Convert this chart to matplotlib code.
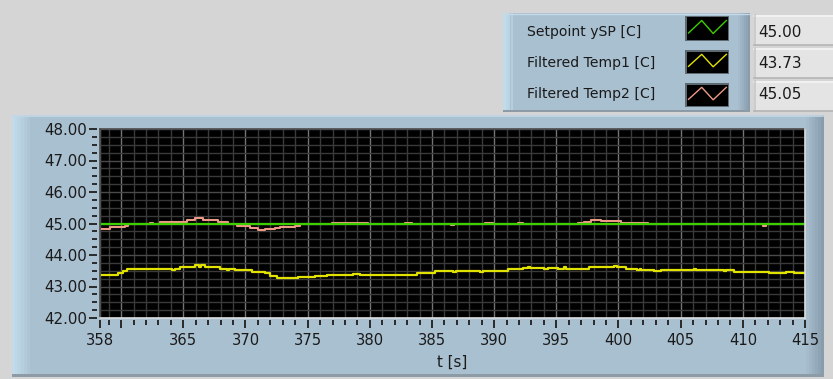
import matplotlib
matplotlib.use("Agg")
import matplotlib.pyplot as plt
from matplotlib.patches import Rectangle
from matplotlib.lines import Line2D

W, H = 833, 379

# Setpoint (constant)
t_setpoint = [358.30, 415.06]
setpoint = [45.00, 45.00]

# Filtered Temp1, step changes (time [s], temperature [C])
t_temp1 = [358.30, 359.75, 360.15, 360.47, 364.10, 364.30, 364.74, 365.95, 366.27, 366.45,
           366.75, 367.96, 368.50, 368.70, 369.17, 370.54, 371.58, 371.99, 372.55, 374.23,
           375.61, 376.58, 378.67, 379.23, 383.82, 385.27, 386.70, 386.90, 388.90, 389.10,
           391.15, 392.36, 392.70, 392.90, 393.97, 394.30, 395.10, 395.60, 395.80, 397.59,
           399.60, 399.90, 400.57, 401.50, 401.70, 401.78, 402.82, 403.39, 406.05, 406.25,
           408.46, 408.66, 409.27, 412.09, 412.89, 413.46, 414.10, 415.06]
temp1 = [43.37, 43.44, 43.50, 43.56, 43.52, 43.56, 43.62, 43.67, 43.63, 43.67,
         43.62, 43.56, 43.53, 43.56, 43.52, 43.47, 43.44, 43.34, 43.27, 43.31,
         43.33, 43.36, 43.41, 43.37, 43.44, 43.50, 43.46, 43.50, 43.45, 43.50,
         43.55, 43.60, 43.63, 43.60, 43.56, 43.60, 43.55, 43.62, 43.55, 43.62,
         43.66, 43.62, 43.57, 43.52, 43.57, 43.52, 43.48, 43.52, 43.56, 43.52,
         43.48, 43.52, 43.47, 43.44, 43.42, 43.46, 43.44, 43.44]

# Filtered Temp2, step changes (time [s], temperature [C])
t_temp2 = [358.30, 359.11, 360.31, 360.55, 362.33, 362.60, 363.13, 365.30, 365.95, 366.59,
           367.80, 368.61, 369.33, 370.38, 371.02, 371.58, 372.39, 372.79, 373.99, 374.40,
           376.98, 379.88, 381.41, 381.89, 382.86, 383.42, 384.06, 384.39, 385.27, 386.50,
           386.80, 388.65, 389.29, 389.94, 391.95, 392.36, 393.48, 394.77, 396.71, 397.19,
           397.75, 398.56, 400.17, 402.34, 404.19, 404.68, 406.21, 406.61, 407.01, 410.07,
           411.04, 411.60, 411.84, 412.65, 415.06]
temp2 = [44.84, 44.88, 44.93, 45.00, 45.02, 45.00, 45.06, 45.11, 45.17, 45.12,
         45.05, 45.00, 44.92, 44.85, 44.79, 44.82, 44.85, 44.88, 44.93, 45.00,
         45.03, 45.00, 44.97, 45.00, 45.03, 45.00, 44.97, 45.00, 44.97, 44.94,
         44.97, 45.00, 45.03, 45.00, 45.03, 45.00, 44.97, 45.00, 45.03, 45.06,
         45.12, 45.08, 45.03, 45.00, 44.97, 45.00, 44.97, 45.00, 44.97, 45.00,
         44.97, 44.93, 44.97, 45.00, 45.00]

legend_names = ["Setpoint ySP [C]", "Filtered Temp1 [C]", "Filtered Temp2 [C]"]
legend_values = ["45.00", "43.73", "45.05"]
series_colors = ["#3ccf00", "#e2e200", "#ec9a86"]

x_range = (358.3, 415.0)
y_range = (42.0, 48.0)
x_major = [358.3] + list(range(360, 416, 5))
x_major_labels = ["358", ""] + [str(v) for v in range(365, 416, 5)]
x_minor = [v for v in range(359, 415) if v % 5 != 0]
y_major = [42, 43, 44, 45, 46, 47, 48]
y_minor = [42 + 0.25 * i for i in range(25) if i % 4 != 0]
x_label = "t [s]"

FONT = "DejaVu Sans"
plt.rcParams["font.family"] = [FONT]

fig = plt.figure(figsize=(W / 100, H / 100), dpi=100)
fig.patch.set_facecolor("#d5d5d5")


def box(x0, y0, x1, y1, color, z=0.5, **kw):
    fig.add_artist(Rectangle((x0 / W, 1 - y1 / H), (x1 - x0) / W, (y1 - y0) / H,
                             transform=fig.transFigure, facecolor=color,
                             edgecolor="none", zorder=z, **kw))


def hline(x0, x1, y, color, lw=1.0, z=0.9):
    fig.add_artist(Line2D([x0 / W, x1 / W], [1 - y / H, 1 - y / H], color=color,
                          lw=lw, transform=fig.transFigure, zorder=z))


def vline(x, y0, y1, color, lw=1.0, z=0.9):
    fig.add_artist(Line2D([x / W, x / W], [1 - y0 / H, 1 - y1 / H], color=color,
                          lw=lw, transform=fig.transFigure, zorder=z))


panel = "#a9c0d0"

# chart frame
box(12, 115, 823, 377, panel)
grad = ["#c2dbea", "#bed7e7", "#bad3e3", "#b6cfdf", "#b2cada", "#aec5d5"]
for i, c in enumerate(grad):
    box(12 + 3 * i, 115, 15 + 3 * i, 377, c, z=0.6)
shade = ["#a6bccc", "#a0b6c6", "#9ab0c0", "#94aaba", "#8ea3b3", "#889cac"]
for i, c in enumerate(shade):
    box(806 + 3 * i, 115, 809 + 3 * i, 377, c, z=0.6)
hline(12, 823, 115.8, "#c4d8e6", lw=1.2)
box(12, 374, 823, 377, "#8c9ba6", z=0.7)

# legend frame
box(503, 13, 750, 112, panel)
for i, c in enumerate(grad[:4]):
    box(503 + 2.5 * i, 13, 505.5 + 2.5 * i, 112, c, z=0.6)
for i, c in enumerate(shade):
    box(738 + 2 * i, 13, 740 + 2 * i, 112, c, z=0.6)
hline(503, 750, 13.6, "#c4d8e6", lw=1.0)
box(503, 110, 750, 112, "#8c9ba6", z=0.7)

row_y = [32, 63, 94]
sw_rows = [(16, 41), (50, 74), (83, 107)]
val_rows = [(15, 45), (48, 78), (81, 111)]

for name, val, col, ty, (s0, s1), (v0, v1) in zip(legend_names, legend_values, series_colors,
                                                  row_y, sw_rows, val_rows):
    fig.text(527 / W, 1 - ty / H, name, ha="left", va="center", fontsize=10.1,
             color="#1a1a1a", zorder=2)
    # plot swatch
    box(685, s0, 729, s1, "#5e6a72", z=1.0)
    box(686.5, s0 + 1.5, 727.5, s1 - 1.5, "#000000", z=1.1)
    sx = [0.08, 0.38, 0.64, 0.94]
    sy = [0.68, 0.18, 0.70, 0.18]
    fig.add_artist(Line2D([(685 + f * 44) / W for f in sx],
                          [1 - (s0 + f * (s1 - s0)) / H for f in sy],
                          color=col, lw=1.0, transform=fig.transFigure, zorder=1.2))
    # numeric indicator
    box(754, v0, 833, v1, "#e4e4e4", z=1.0)
    hline(754, 833, v0 + 0.5, "#f4f4f4", lw=1.2, z=1.1)
    vline(754.5, v0, v1, "#c8c8c8", lw=1.2, z=1.1)
    hline(754, 833, v1 - 0.5, "#b4b4b4", lw=1.2, z=1.1)
    fig.text(758 / W, 1 - (ty + 0.5) / H, val, ha="left", va="center", fontsize=11,
             color="#1a1a1a", zorder=2)

# plot area
ax = fig.add_axes([100 / W, 1 - 318 / H, 705 / W, 189 / H])
ax.set_zorder(10)
ax.set_facecolor("#000000")
ax.set_xlim(*x_range)
ax.set_ylim(*y_range)

ax.set_xticks(x_major)
ax.set_xticklabels(x_major_labels)
ax.set_xticks(x_minor, minor=True)
ax.set_yticks(y_major)
ax.set_yticklabels([f"{v:.2f}" for v in y_major])
ax.set_yticks(y_minor, minor=True)

ax.grid(which="minor", color="#3a3a3a", lw=1.0)
ax.grid(which="major", axis="x", color="#747474", lw=1.0)
ax.grid(which="major", axis="y", color="#4a4a4a", lw=1.0)
ax.set_axisbelow(True)

for s in ax.spines.values():
    s.set_visible(False)
ax.spines["left"].set_position(("outward", 2))
ax.spines["bottom"].set_position(("outward", 1.5))

ax.tick_params(which="major", direction="out", length=5.5, width=1.3, color="#1e1e1e",
               labelcolor="#1a1a1a")
ax.tick_params(which="minor", direction="out", length=3.5, width=1.3, color="#1e1e1e")
ax.tick_params(axis="y", pad=2, labelsize=10.8)
ax.tick_params(axis="x", pad=4, labelsize=10.6)
ax.tick_params(axis="x", which="minor", length=3.5)

ax.set_xlabel(x_label, fontsize=10.8, color="#1a1a1a", labelpad=4.5)

ax.plot(t_temp2, temp2, drawstyle="steps-post", color=series_colors[2], lw=1.5, zorder=3)
ax.plot(t_setpoint, setpoint, color=series_colors[0], lw=1.6, zorder=4)
ax.plot(t_temp1, temp1, drawstyle="steps-post", color=series_colors[1], lw=1.6, zorder=5)

# sunken plot border
for xs, ys, c in [([0, 1], [1, 1], "#4c4c4c"), ([0, 0], [0, 1], "#4c4c4c"),
                  ([0, 1], [0, 0], "#dcdcdc"), ([1, 1], [0, 1], "#dcdcdc")]:
    ax.add_line(Line2D(xs, ys, transform=ax.transAxes, color=c, lw=1.2,
                       clip_on=False, zorder=6))

fig.savefig("out.png", dpi=100, facecolor=fig.get_facecolor())
